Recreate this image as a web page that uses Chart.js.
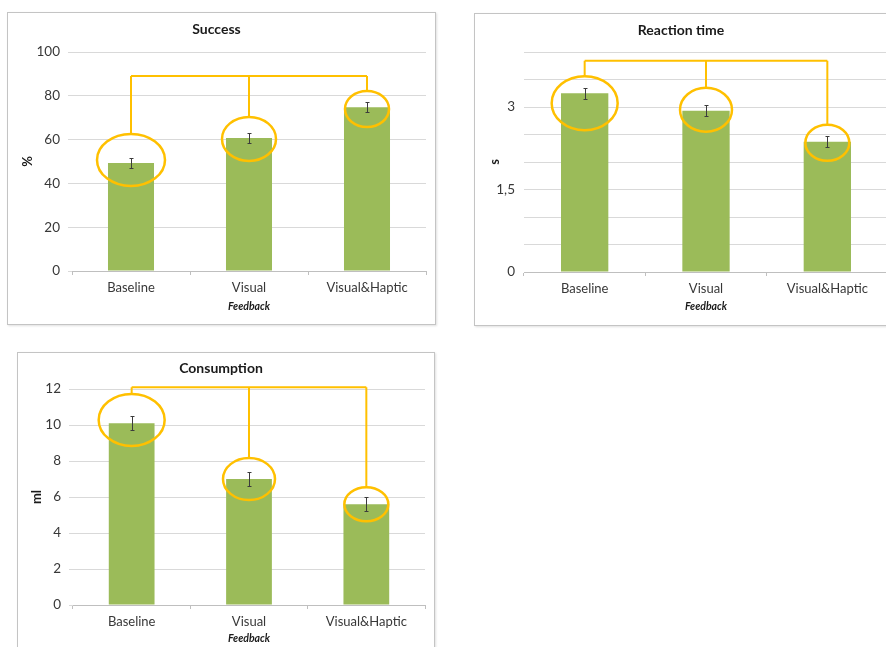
<!DOCTYPE html>
<html lang="en">
<head>
  <meta charset="UTF-8" />
  <title>Feedback results</title>
  <script src="https://cdn.jsdelivr.net/npm/chart.js"></script>
  <style>
    body {
      margin: 0;
      width: 886px;
      height: 647px;
      overflow: hidden;
      background: #fff;
      position: relative;
    }
    .frame {
      position: absolute;
      box-sizing: border-box;
      border: 1px solid #c4c4c4;
      box-shadow: 1px 1px 2px rgba(0,0,0,0.12);
    }
    canvas { position: absolute; }
  </style>
</head>
<body>
  <div class="frame" style="left:7px;top:12px;width:429px;height:313px"></div>
  <div class="frame" style="left:474px;top:13px;width:440px;height:313px"></div>
  <div class="frame" style="left:17px;top:352px;width:418px;height:330px"></div>
  <canvas id="success" width="428" height="312" style="left:7px;top:12px"></canvas>
  <canvas id="reaction" width="420" height="312" style="left:474px;top:13px"></canvas>
  <canvas id="consumption" width="417" height="306" style="left:17px;top:352px"></canvas>

  <script>
    // values
    const categories = ['Baseline', 'Visual', 'Visual&Haptic'];

    const successValues = [49.3, 60.7, 74.8];
    const successErrors = [2.3, 2.3, 2.2];
    const successRings = [50.7, 60.3, 74];
    const successBracket = 89;

    const reactionValues = [3.25, 2.93, 2.37];
    const reactionErrors = [0.1, 0.1, 0.1];
    const reactionRings = [3.07, 2.95, 2.35];
    const reactionBracket = 3.84;
    const reactionTickLabels = [0, 1.5, 3];

    const consumptionValues = [10.1, 7.0, 5.6];
    const consumptionErrors = [0.4, 0.38, 0.38];
    const consumptionRings = [10.28, 7.0, 5.6];
    const consumptionBracket = 12.1;

    const FONT = 'Lato, "Open Sans", sans-serif';
    const BAR = '#9bbb59';
    const RING = '#ffc000';

    // error bars, yellow rings and the bracket joining them
    function markers(errors, rings, bracket, radii) {
      return {
        id: 'markers',
        afterDatasetsDraw(chart) {
          const { ctx } = chart;
          const y = chart.scales.y;
          const bars = chart.getDatasetMeta(0).data;
          const values = chart.data.datasets[0].data;
          ctx.save();
          ctx.strokeStyle = '#3c3c3c';
          ctx.lineWidth = 1;
          bars.forEach((bar, i) => {
            const top = Math.round(y.getPixelForValue(values[i] + errors[i])) + 0.5;
            const bot = Math.round(y.getPixelForValue(values[i] - errors[i])) + 0.5;
            const x = Math.round(bar.x) + 0.5;
            ctx.beginPath();
            ctx.moveTo(x, top); ctx.lineTo(x, bot);
            ctx.moveTo(x - 2, top); ctx.lineTo(x + 2, top);
            ctx.moveTo(x - 2, bot); ctx.lineTo(x + 2, bot);
            ctx.stroke();
          });

          ctx.strokeStyle = RING;
          ctx.lineWidth = 2;
          const by = y.getPixelForValue(bracket);
          ctx.beginPath();
          ctx.moveTo(bars[0].x, by);
          ctx.lineTo(bars[bars.length - 1].x, by);
          bars.forEach((bar, i) => {
            ctx.moveTo(bar.x, by);
            ctx.lineTo(bar.x, y.getPixelForValue(rings[i]) - radii[i][1]);
          });
          ctx.stroke();

          ctx.lineWidth = 2.5;
          bars.forEach((bar, i) => {
            ctx.beginPath();
            ctx.ellipse(bar.x, y.getPixelForValue(rings[i]), radii[i][0], radii[i][1], 0, 0, Math.PI * 2);
            ctx.stroke();
          });
          ctx.restore();
        }
      };
    }

    function makeChart(id, c) {
      return new Chart(document.getElementById(id), {
        type: 'bar',
        data: {
          labels: categories,
          datasets: [{
            data: c.values,
            backgroundColor: BAR,
            barPercentage: 0.39,
            categoryPercentage: 1
          }]
        },
        plugins: [markers(c.errors, c.rings, c.bracket, c.radii)],
        options: {
          responsive: false,
          animation: false,
          layout: { padding: { left: 0, right: c.right, top: 0, bottom: 0 } },
          plugins: {
            legend: { display: false },
            tooltip: { enabled: false },
            title: {
              display: true,
              text: c.title,
              color: '#1a1a1a',
              font: { family: FONT, size: 14, weight: 'bold' },
              padding: { top: c.titleTop, bottom: c.titleBottom }
            }
          },
          scales: {
            x: {
              grid: { drawOnChartArea: false, tickLength: 4, color: '#bfbfbf' },
              border: { color: '#bfbfbf' },
              ticks: { color: '#383838', font: { family: FONT, size: 13 }, padding: 5 },
              title: {
                display: true,
                text: 'Feedback',
                color: '#1a1a1a',
                font: { family: FONT, size: 10.5, style: 'italic', weight: 'bold' },
                padding: { top: 0, bottom: c.xTitlePad }
              },
              afterFit: s => { s.height = c.xHeight; }
            },
            y: {
              min: 0,
              max: c.max,
              grid: { color: '#d9d9d9', tickLength: c.yTick, drawTicks: c.yTick > 0 },
              border: { display: false },
              ticks: {
                stepSize: c.step,
                color: '#383838',
                font: { family: FONT, size: 13.5 },
                padding: c.yPad,
                callback: c.tickCallback
              },
              title: {
                display: true,
                text: c.yTitle,
                color: '#1a1a1a',
                font: { family: FONT, size: 13, weight: 'bold' },
                padding: { top: c.yTitlePad, bottom: 0 }
              },
              afterFit: s => { s.width = c.yWidth; }
            }
          }
        }
      });
    }

    makeChart('success', {
      title: 'Success', yTitle: '%',
      values: successValues, errors: successErrors, rings: successRings, bracket: successBracket,
      radii: [[34, 26], [27, 22], [22, 18]],
      max: 100, step: 20,
      right: 9, yWidth: 65, yTick: 4, yPad: 8, yTitlePad: 13.2,
      titleTop: 9.2, titleBottom: 14,
      xHeight: 53, xTitlePad: 11
    });

    makeChart('reaction', {
      title: 'Reaction time', yTitle: 's',
      values: reactionValues, errors: reactionErrors, rings: reactionRings, bracket: reactionBracket,
      radii: [[33, 27], [26, 22], [22, 18]],
      max: 4, step: 0.5,
      tickCallback: v => reactionTickLabels.includes(v) ? String(v).replace('.', ',') : '',
      right: 6, yWidth: 50, yTick: 0, yPad: 9, yTitlePad: 13.2,
      titleTop: 9.2, titleBottom: 13,
      xHeight: 53, xTitlePad: 12
    });

    makeChart('consumption', {
      title: 'Consumption', yTitle: 'ml',
      values: consumptionValues, errors: consumptionErrors, rings: consumptionRings, bracket: consumptionBracket,
      radii: [[33, 26], [26, 21], [22, 17]],
      max: 12, step: 2,
      right: 9, yWidth: 56, yTick: 4, yPad: 8, yTitlePad: 12.2,
      titleTop: 8.2, titleBottom: 12,
      xHeight: 53, xTitlePad: 13
    });
  </script>
</body>
</html>
